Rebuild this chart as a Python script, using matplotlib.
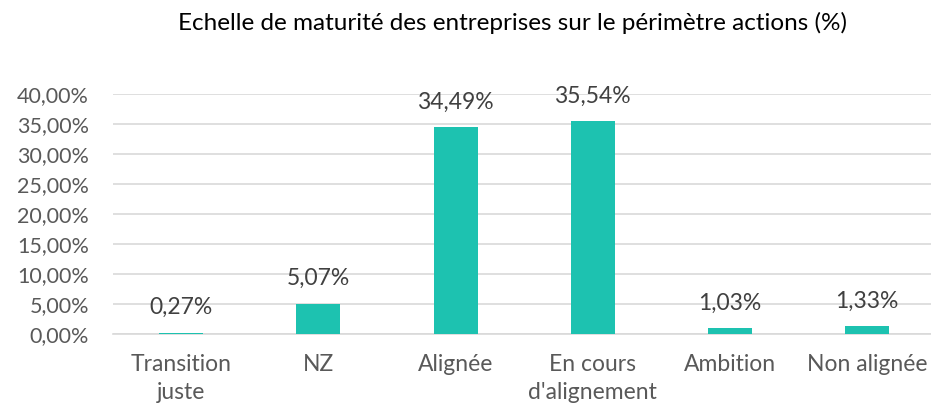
import matplotlib.pyplot as plt
from matplotlib.ticker import FuncFormatter

# Données
categories = ['Transition\njuste', 'NZ', 'Alignée', "En cours\nd'alignement", 'Ambition', 'Non alignée']
valeurs = [0.27, 5.07, 34.49, 35.54, 1.03, 1.33]

plt.rcParams['font.family'] = ['Lato', 'DejaVu Sans']
gris = '#595959'

fig = plt.figure(figsize=(9.31, 4.09), dpi=100)
ax = fig.add_axes([0.121, 0.183, 0.884, 0.587])

x = range(len(categories))
ax.bar(x, valeurs, width=0.32, color='#1DC2B0', zorder=3)

for i, v in enumerate(valeurs):
    ax.text(i, v + 2.4, f'{v:.2f}%'.replace('.', ','), ha='center', va='bottom',
            fontsize=16.5, color='#404040')

ax.set_ylim(0, 40)
ax.set_xlim(-0.5, len(categories) - 0.5)
ax.set_yticks(range(0, 41, 5))
ax.yaxis.set_major_formatter(FuncFormatter(lambda v, p: f'{v:.2f}%'.replace('.', ',')))
ax.grid(axis='y', color='#d9d9d9', linewidth=1.2, zorder=0)
ax.set_xticks(list(x))
ax.set_xticklabels(categories, linespacing=1.45)
ax.tick_params(axis='both', length=0, labelsize=15.5, colors=gris)
ax.tick_params(axis='x', pad=14, labelsize=16.5)
ax.tick_params(axis='y', pad=17)
for s in ['top', 'right', 'left']:
    ax.spines[s].set_visible(False)
ax.spines['bottom'].set_color('#d9d9d9')
ax.spines['bottom'].set_linewidth(1.2)

fig.text(0.551, 0.945, 'Echelle de maturité des entreprises sur le périmètre actions (%)',
         ha='center', va='center', fontsize=17.5, color='black')

fig.savefig('out.png', dpi=100)
